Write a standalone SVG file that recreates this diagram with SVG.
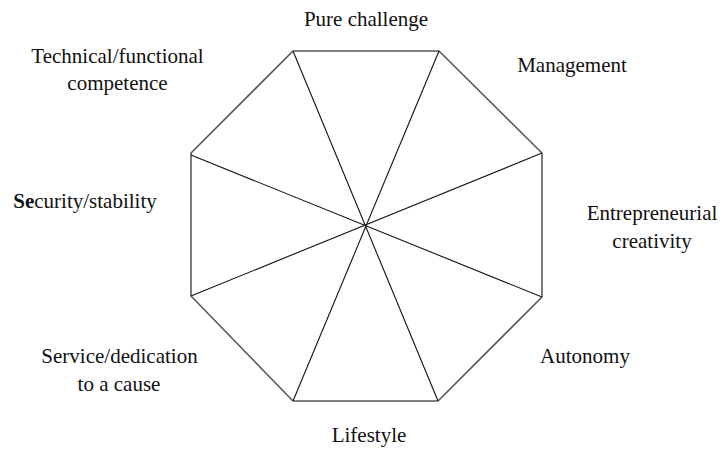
<svg xmlns="http://www.w3.org/2000/svg" width="721" height="451" viewBox="0 0 721 451">
  <style>
    .frame { fill: none; stroke: #5a5a5a; stroke-width: 1.6; stroke-linejoin: miter; }
    .spoke { stroke: #111; stroke-width: 1.1; fill: none; }
    .lbl { font-size: 21px; fill: #111; text-anchor: middle; }
  </style>
  <rect width="721" height="451" fill="#fff"/>

  <!-- octagon outline -->
  <g id="octagon">
    <polygon class="frame" points="293,51 439,51 542,153 542,297 438,401 293,401 191,296 191,153"/>
  </g>

  <!-- spokes through the centre -->
  <g id="connectors">
    <line class="spoke" x1="293" y1="51" x2="438" y2="401"/>
    <line class="spoke" x1="439" y1="51" x2="293" y2="401"/>
    <line class="spoke" x1="542" y1="153" x2="191" y2="296"/>
    <line class="spoke" x1="542" y1="297" x2="191" y2="155"/>
  </g>

  <g font-family="Liberation Serif, Times New Roman, Tinos, Noto Serif, DejaVu Serif, serif">
    <g id="pure-challenge">
      <text class="lbl" x="366" y="26">Pure challenge</text>
    </g>
    <g id="management">
      <text class="lbl" x="572" y="72">Management</text>
    </g>
    <g id="entrepreneurial-creativity">
      <text class="lbl" x="652" y="220">Entrepreneurial</text>
      <text class="lbl" x="652" y="248">creativity</text>
    </g>
    <g id="autonomy">
      <text class="lbl" x="585" y="363">Autonomy</text>
    </g>
    <g id="lifestyle">
      <text class="lbl" x="369" y="442">Lifestyle</text>
    </g>
    <g id="service-dedication">
      <text class="lbl" x="119.5" y="363">Service/dedication</text>
      <text class="lbl" x="119" y="391">to a cause</text>
    </g>
    <g id="security-stability">
      <text class="lbl" x="85" y="208"><tspan font-weight="bold">Se</tspan>curity/stability</text>
    </g>
    <g id="technical-functional">
      <text class="lbl" x="117.5" y="63">Technical/functional</text>
      <text class="lbl" x="117.5" y="90">competence</text>
    </g>
  </g>
</svg>
